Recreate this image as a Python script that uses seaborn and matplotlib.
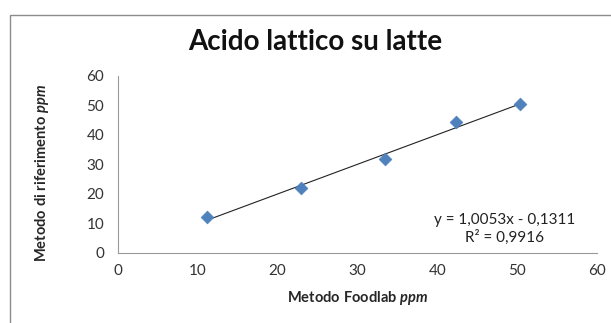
import numpy as np
import matplotlib
matplotlib.use("Agg")
import matplotlib.pyplot as plt
import seaborn as sns
import pandas as pd
from matplotlib.patches import Rectangle

# — Dati —
foodlab = [11.1, 22.9, 33.4, 42.3, 50.4]
riferimento = [12.2, 22.0, 31.9, 44.3, 50.6]
pendenza = 1.0053
intercetta = -0.1311
r2 = 0.9916
x_ticks = [0, 10, 20, 30, 40, 50, 60]
y_ticks = [0, 10, 20, 30, 40, 50, 60]

df = pd.DataFrame({"foodlab": foodlab, "riferimento": riferimento})

sns.set_style("white")
plt.rcParams["font.family"] = ["Lato", "DejaVu Sans"]
plt.rcParams["mathtext.fontset"] = "custom"
plt.rcParams["mathtext.bf"] = "Lato:bold"
plt.rcParams["mathtext.it"] = "Lato:bold:italic"
plt.rcParams["mathtext.rm"] = "Lato"

fig = plt.figure(figsize=(6.11, 3.23), dpi=100)
ax = fig.add_axes([0.193, 0.217, 0.784, 0.548])

# cornice esterna
fig.patches.append(Rectangle((10 / 611, -0.1), 1.2, 1 - 15 / 323 + 0.1,
                             transform=fig.transFigure, fill=False,
                             edgecolor="#8c8c8c", linewidth=1.0))

# — Linea di tendenza —
xs = np.array([min(foodlab), max(foodlab)])
ax.plot(xs, pendenza * xs + intercetta, color="#222222", linewidth=0.8, zorder=2)

sns.scatterplot(data=df, x="foodlab", y="riferimento", marker="D", s=42,
                color="#4F81BD", edgecolor="#4F81BD", linewidth=0.5, ax=ax, zorder=3)

ax.set_xlim(0, 60)
ax.set_ylim(0, 60)
ax.set_xticks(x_ticks)
ax.set_yticks(y_ticks)
ax.tick_params(axis="both", length=0, labelsize=11, colors="#333333")
ax.tick_params(axis="y", pad=10)
ax.tick_params(axis="x", pad=8)
for s in ["top", "right"]:
    ax.spines[s].set_visible(False)
for s in ["left", "bottom"]:
    ax.spines[s].set_color("#9a9a9a")
    ax.spines[s].set_linewidth(0.8)

ax.set_xlabel(r"$\mathbf{Metodo\ Foodlab}\ \mathit{ppm}$", fontsize=10.5, va="center")
ax.set_ylabel(r"$\mathbf{Metodo\ di\ riferimento}\ \mathit{ppm}$", fontsize=10.5, va="center")
ax.xaxis.set_label_coords(0.5, -0.254)
ax.yaxis.set_label_coords(-0.159, 0.452)

fig.text(0.516, 0.845, "Acido lattico su latte", fontsize=20, fontweight="bold",
         ha="center", va="baseline", color="#111111")

ax.text(0.808, 0.185, "y = 1,0053x - 0,1311", transform=ax.transAxes,
        ha="center", va="center", fontsize=11, color="#222222")
ax.text(0.808, 0.09, "R² = 0,9916", transform=ax.transAxes,
        ha="center", va="center", fontsize=11, color="#222222")

fig.savefig("out.png", dpi=100)
